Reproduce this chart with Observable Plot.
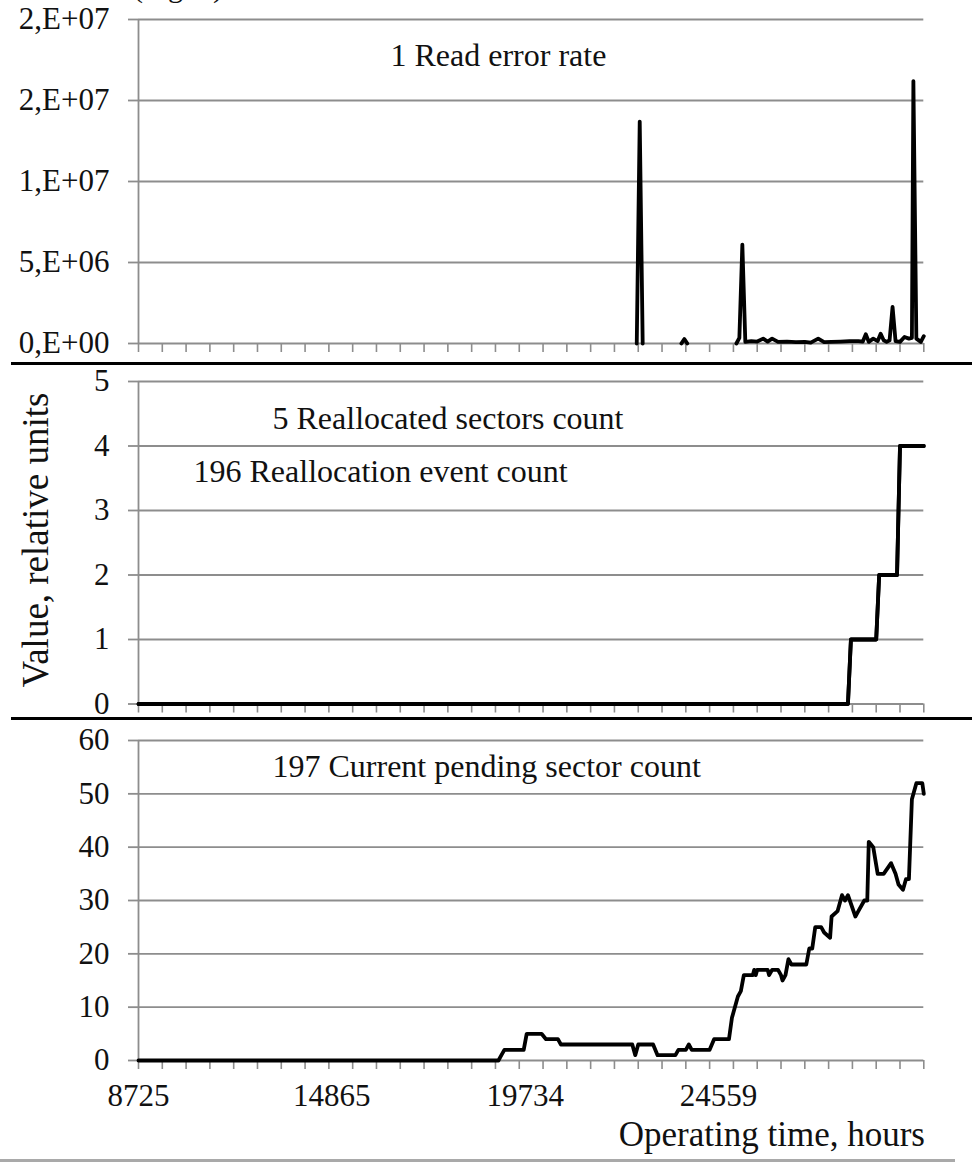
<!DOCTYPE html>
<html>
<head>
<meta charset="utf-8">
<script src="https://cdn.jsdelivr.net/npm/d3@7"></script>
<script src="https://cdn.jsdelivr.net/npm/@observablehq/plot@0.6"></script>
<style>
  body { margin: 0; background: #fff; }
  #chart { position: relative; width: 972px; height: 1166px; overflow: hidden;
           font-family: "Liberation Serif", "Times New Roman", serif; color: #111; background: #fff; }
  #chart svg { position: absolute; left: 0; top: 0; }
  .txt { position: absolute; white-space: nowrap; line-height: 1; }
  .rule { position: absolute; }
</style>
</head>
<body>
<div id="chart"></div>
<script>
// Measurement number along the category axis (16 measurements per tick mark).
const xTickStep = 16;
const xMax = 528;
const xLabelIdx = [0, 130, 260, 390];
const xLabels = ["8725", "14865", "19734", "24559"];

// SMART 1: Read error rate (null = no reading, the line breaks there)
const readIdx = [335, 337, 339, 340, 365, 367, 369, 370, 402, 404, 406, 408, 412, 416, 420, 423, 426, 430, 436, 442, 448,
                 452, 457, 461, 466, 472, 478, 484, 487, 489, 491, 494, 497, 499, 501, 503, 505, 507, 509, 512, 515,
                 518, 520, 521, 523, 526, 528];
const readVal = [0, 13.7e6, 0, null, 0, 0.27e6, 0, null, 0, 0.35e6, 6.1e6, 0.1e6, 0.15e6, 0.12e6, 0.3e6, 0.12e6, 0.3e6, 0.1e6, 0.12e6, 0.08e6, 0.1e6,
                 0.05e6, 0.3e6, 0.08e6, 0.1e6, 0.12e6, 0.15e6, 0.15e6, 0.12e6, 0.57e6, 0.1e6, 0.3e6, 0.15e6, 0.6e6, 0.2e6, 0.1e6, 0.2e6, 2.26e6, 0.15e6, 0.1e6, 0.4e6,
                 0.3e6, 0.35e6, 16.2e6, 0.3e6, 0.1e6, 0.45e6];
const readTicks = [0, 5e6, 1e7, 1.5e7, 2e7];
const readTickLabels = ["0,E+00", "5,E+06", "1,E+07", "2,E+07", "2,E+07"];

// SMART 5 and 196: Reallocated sectors / reallocation events
const reallocIdx = [0, 477, 479, 496, 498, 510, 512, 528];
const reallocSectors = [0, 0, 1, 1, 2, 2, 4, 4];
const reallocEvents = [0, 0, 1, 1, 2, 2, 4, 4];
const reallocTicks = [0, 1, 2, 3, 4, 5];

// SMART 197: Current pending sector count
const pendIdx = [0, 242, 244, 246, 259, 261, 271, 274, 282, 284, 332, 334, 336, 346, 349, 361, 363, 368, 370, 372,
                 384, 387, 397, 399, 400, 403, 405, 407, 413, 414, 415, 416, 423, 424, 426, 430, 432, 433, 435, 437,
                 439, 449, 451, 453, 455, 459, 461, 465, 466, 470, 473, 475, 477, 482, 484, 488, 490, 491, 494, 497,
                 501, 506, 509, 511, 514, 516, 518, 520, 523, 527, 528];
const pendVal = [0, 0, 1, 2, 2, 5, 5, 4, 4, 3, 3, 1, 3, 3, 1, 1, 2, 2, 3, 2,
                 2, 4, 4, 8, 9, 12, 13, 16, 16, 17, 16, 17, 17, 16, 17, 17, 16, 15, 16, 19,
                 18, 18, 21, 21, 25, 25, 24, 23, 27, 28, 31, 30, 31, 27, 28, 30, 30, 41, 40, 35,
                 35, 37, 35, 33, 32, 34, 34, 49, 52, 52, 50];
const pendTicks = [0, 10, 20, 30, 40, 50, 60];

const W = 972, H = 1166;
const GRID = "#8d8d8d";
const FONT = "Liberation Serif, Times New Roman, serif";
const TICK_FONT = 31;
const TITLE_FONT = 32;
const chart = document.getElementById("chart");

function panel({series, yDomain, yTicks, yFormat, top, bottom, titles, xLabelled}) {
  const marks = [
    Plot.gridY(yTicks, {stroke: GRID, strokeOpacity: 1, strokeWidth: 1.8}),
    Plot.ruleX([0], {stroke: GRID, strokeWidth: 1.8}),
    Plot.axisY(yTicks, {tickSize: 10, tickPadding: 19, stroke: GRID, strokeWidth: 1.8,
                        tickFormat: yFormat, fontSize: TICK_FONT, fill: "#111", label: null}),
    Plot.axisX(d3.range(0, xMax + 1, xTickStep), {tickSize: 9, stroke: GRID, strokeWidth: 1.6,
                        tickFormat: () => "", label: null})
  ];
  if (xLabelled) {
    const m = new Map(xLabelIdx.map((d, i) => [d, xLabels[i]]));
    marks.push(Plot.axisX(xLabelIdx, {tickSize: 0, tickPadding: 23, tickFormat: d => m.get(d),
                                      fontSize: TICK_FONT, fill: "#111", label: null}));
  }
  for (const s of series) {
    marks.push(Plot.line(s.idx.map((d, i) => ({i: d, v: s.val[i]})),
                         {x: "i", y: "v", stroke: "#000", strokeWidth: 3.8}));
  }
  for (const t of titles) {
    marks.push(Plot.text([t.text], {frameAnchor: "top-left", textAnchor: "start", lineAnchor: "middle",
                                    dx: t.dx, dy: t.dy, fontSize: TITLE_FONT, fill: "#111"}));
  }
  const svg = Plot.plot({
    width: W, height: H,
    marginLeft: 138, marginRight: 48.7, marginTop: top, marginBottom: H - bottom,
    style: {background: "transparent", fontFamily: FONT, fontSize: "30px", color: "#111", overflow: "visible"},
    x: {domain: [0, xMax]},
    y: {domain: yDomain},
    marks
  });
  chart.appendChild(svg);
}

const readMap = new Map(readTicks.map((d, i) => [d, readTickLabels[i]]));
panel({
  series: [{idx: readIdx, val: readVal}],
  yDomain: [0, 2e7], yTicks: readTicks, yFormat: d => readMap.get(d),
  top: 19, bottom: 343,
  titles: [{text: "1 Read error rate", dx: 252, dy: 36}]
});
panel({
  series: [{idx: reallocIdx, val: reallocSectors}, {idx: reallocIdx, val: reallocEvents}],
  yDomain: [0, 5], yTicks: reallocTicks, yFormat: d => String(d),
  top: 381, bottom: 703.5,
  titles: [{text: "5 Reallocated sectors count", dx: 134, dy: 37},
           {text: "196 Reallocation event count", dx: 55, dy: 90}]
});
panel({
  series: [{idx: pendIdx, val: pendVal}],
  yDomain: [0, 60], yTicks: pendTicks, yFormat: d => String(d),
  top: 740, bottom: 1060,
  titles: [{text: "197 Current pending sector count", dx: 134, dy: 26}],
  xLabelled: true
});

// Panel separators, clipped caption remnant, shared axis titles
function addRule(left, top, width, height, color) {
  const d = document.createElement("div");
  d.className = "rule";
  Object.assign(d.style, {left: left + "px", top: top + "px", width: width + "px", height: height + "px", background: color});
  chart.appendChild(d);
}
function addText(text, css) {
  const d = document.createElement("div");
  d.className = "txt";
  d.textContent = text;
  Object.assign(d.style, css);
  chart.appendChild(d);
  return d;
}
addRule(11, 362, 961, 3, "#000");
addRule(11, 717, 961, 3, "#000");
addRule(0, 1159, 955, 3, "#a9a9a9");
addText("(Fig. 4)", {left: "133px", top: "-28px", fontSize: "30px"});
addText("Value, relative units", {left: "35px", top: "540px", fontSize: "37px",
                                  transform: "translate(-50%, -50%) rotate(-90deg)"});
addText("Operating time, hours", {right: "47px", top: "1117px", fontSize: "35px"});
</script>
</body>
</html>
